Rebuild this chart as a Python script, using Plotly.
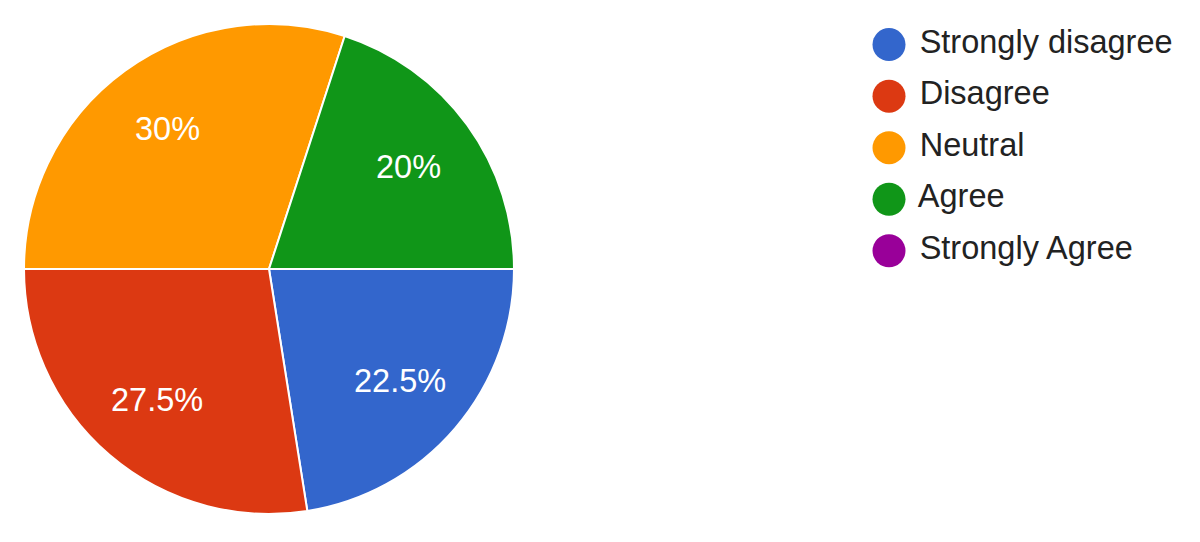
import numpy as np
import plotly.graph_objects as go

categories = ["Strongly disagree", "Disagree", "Neutral", "Agree", "Strongly Agree"]
counts = [9, 11, 12, 8, 0]
colors = ["#3366CC", "#DC3912", "#FF9900", "#109618", "#990099"]

FONT = "Liberation Sans, Arial, sans-serif"
W, H = 1200, 542

# pie geometry (figure pixels)
PIE_CX, PIE_CY, PIE_R = 261, 261, 245
LABEL_R = 0.705  # fraction of radius where slice labels sit

fig = go.Figure()

pie_idx = [i for i, v in enumerate(counts) if v > 0]
fig.add_trace(go.Pie(
    labels=[categories[i] for i in pie_idx],
    values=[counts[i] for i in pie_idx],
    marker=dict(colors=[colors[i] for i in pie_idx], line=dict(color="white", width=2)),
    sort=False,
    direction="clockwise",
    rotation=90,
    textinfo="none",
    domain=dict(x=[(PIE_CX - PIE_R) / W, (PIE_CX + PIE_R) / W],
                y=[1 - (PIE_CY + PIE_R) / H, 1 - (PIE_CY - PIE_R) / H]),
    showlegend=False,
    hoverinfo="label+percent",
))

# slice labels at mid-angle of each slice (derived from the data)
vals = np.array(counts, dtype=float)
frac = vals / vals.sum()
ends = np.cumsum(frac)
mids = ends - frac / 2
for i, (f, m) in enumerate(zip(frac, mids)):
    if f <= 0:
        continue
    ang = 2 * np.pi * m  # clockwise from 3 o'clock
    px = PIE_CX + LABEL_R * PIE_R * np.cos(ang)
    py = PIE_CY + LABEL_R * PIE_R * np.sin(ang)
    fig.add_annotation(
        x=px / W, y=1 - py / H, xref="paper", yref="paper",
        text=f"{f * 100:.3g}%", showarrow=False,
        font=dict(family=FONT, size=32.5, color="white"),
        xanchor="center", yanchor="middle",
    )

# custom legend with large circular markers
fig.add_trace(go.Scatter(
    x=[0] * len(categories),
    y=categories,
    mode="markers+text",
    marker=dict(color=colors, size=33, symbol="circle"),
    text=[" " + c for c in categories],
    textposition="middle right",
    textfont=dict(family=FONT, size=32.5, color="#222222"),
    cliponaxis=False,
    showlegend=False,
    hoverinfo="skip",
))

fig.update_layout(
    width=W,
    height=H,
    margin=dict(l=0, r=0, t=0, b=0),
    paper_bgcolor="white",
    plot_bgcolor="rgba(0,0,0,0)",
    xaxis=dict(domain=[881 / W, 1.0], range=[0, 1], visible=False, fixedrange=True),
    yaxis=dict(domain=[0.5045, 0.9800], type="category", categoryorder="array",
               categoryarray=categories, range=[4.5, -0.5], visible=False,
               fixedrange=True),
    showlegend=False,
)

fig.write_html("out.html")
